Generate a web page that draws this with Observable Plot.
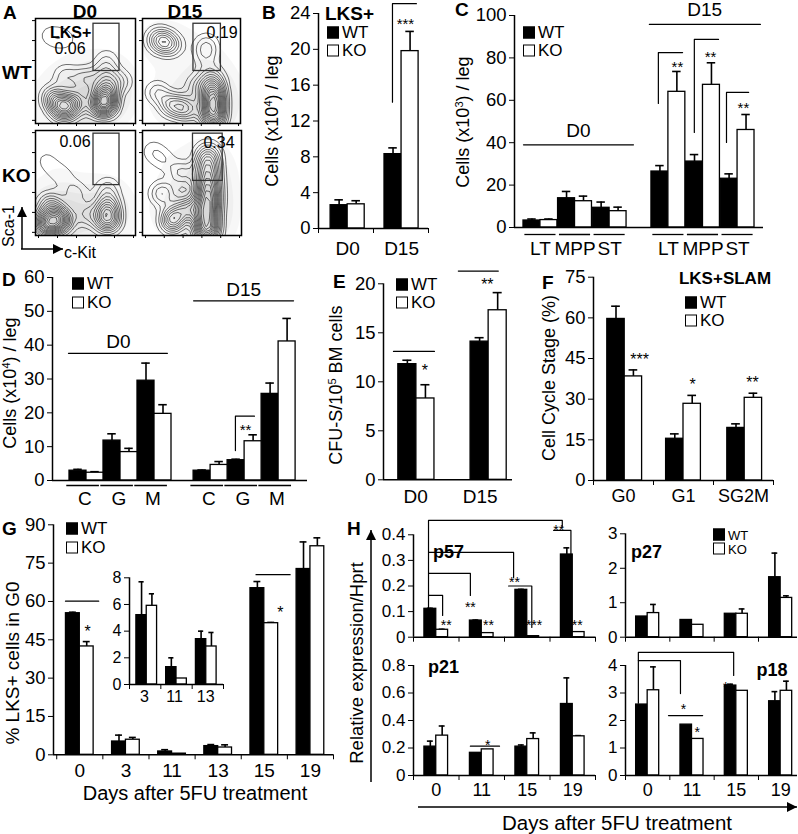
<!DOCTYPE html>
<html><head><meta charset="utf-8">
<script src="https://cdn.jsdelivr.net/npm/d3@7"></script>
<script src="https://cdn.jsdelivr.net/npm/@observablehq/plot@0.6"></script>
<style>
body{margin:0;background:#fff;}
#fig{position:relative;width:798px;height:834px;overflow:hidden;font-family:"Liberation Sans",Arial,Helvetica,sans-serif;color:#000;background:#fff;}
.t{position:absolute;white-space:nowrap;line-height:1;}
.b{font-weight:bold;}
.sup{font-size:0.62em;vertical-align:0.55em;}
.box{display:inline-block;width:10px;height:10px;border:1.5px solid #000;margin-right:3px;vertical-align:-1px;}
</style></head><body><div id="fig"></div>
<script>
// ---------------- DATA ----------------
// A: flow cytometry (blob centres: [c-Kit %, Sca-1 %, weight])
const A_wt_d0 = [[28,15,4],[18,24,2],[40,20,2],[68,18,5],[70,30,3],[70,45,1.5],[71,60,0.8],[50,42,1.5],[30,45,1],[12,84,0.4],[22,82,0.4],[32,80,0.4],[85,40,1]];
const A_wt_d15 = [[14,80,1.2],[22,78,1.4],[30,75,1.2],[65,75,1],[65,63,0.8],[72,5,3],[72,15,3],[72,25,3],[72,35,2],[70,45,1],[30,18,2],[45,14,2],[15,30,1],[55,35,1]];
const A_ko_d0 = [[12,12,4],[25,15,3],[15,30,1.5],[72,15,3],[72,28,2],[72,45,0.8],[50,20,1],[40,40,0.8],[10,72,0.35],[20,62,0.35],[30,55,0.35]];
const A_ko_d15 = [[65,5,3],[65,20,3],[66,35,3],[66,50,2.5],[66,65,2],[66,78,1.2],[30,15,2],[45,25,1.5],[20,40,1],[10,80,0.4],[22,72,0.4],[40,60,0.8]];
const A_gates = [[58,84,50,95],[52,80,50,95],[58,84,48,97],[51,81,52,97]]; // x1,x2,y1,y2
const A_pct = ["0.06","0.19","0.06","0.34"];

// B: LKS+ cells (x10^4)/leg
const B_days = ["D0","D15"];
const B_wt = [2.6, 8.3], B_wtErr = [0.6, 0.7];
const B_ko = [2.7, 19.8], B_koErr = [0.4, 2.2];

// C: cells (x10^3)/leg
const C_days = ["D0","D0","D0","D15","D15","D15"];
const C_cats = ["LT","MPP","ST","LT","MPP","ST"];
const C_wt = [3.3, 13.8, 9.3, 26.4, 31.1, 23.0], C_wtErr = [0.7, 3.2, 2.7, 2.8, 3.3, 2.3];
const C_ko = [3.5, 12.4, 7.7, 64.0, 67.3, 46.0], C_koErr = [0.5, 2.4, 1.9, 9.6, 10.4, 7.3];

// D: cells (x10^4)/leg
const D_cats = ["C","G","M","C","G","M"];
const D_wt = [2.9, 11.8, 29.5, 2.9, 6.0, 25.6], D_wtErr = [0.4, 2.0, 5.2, 0.2, 0.3, 3.2];
const D_ko = [2.3, 8.4, 19.7, 4.6, 11.6, 41.1], D_koErr = [0.3, 1.1, 2.7, 1.0, 1.9, 6.8];

// E: CFU-S / 10^5 BM cells
const E_days = ["D0","D15"];
const E_wt = [11.8, 14.1], E_wtErr = [0.4, 0.4];
const E_ko = [8.3, 17.3], E_koErr = [1.4, 1.8];

// F: cell cycle stage (%)
const F_stage = ["G0","G1","SG2M"];
const F_wt = [59.6, 15.4, 19.4], F_wtErr = [4.7, 1.8, 1.5];
const F_ko = [38.4, 28.3, 30.5], F_koErr = [2.4, 3.1, 1.7];

// G: % LKS+ cells in G0
const G_days = ["0","3","11","13","15","19"];
const G_wt = [55.4, 5.2, 1.3, 3.4, 65.2, 72.7], G_wtErr = [0.4, 2.5, 0.7, 0.6, 2.6, 10.6];
const G_ko = [42.4, 5.9, 0.45, 2.85, 51.5, 81.6], G_koErr = [1.9, 0.9, 0, 1.05, 0.3, 3.3];
const Gi_days = ["3","11","13"];

// H: relative expression / Hprt
const H_days = ["0","11","15","19"];
const H57_wt = [0.111, 0.065, 0.185, 0.323], H57_wtErr = [0.002, 0.002, 0.002, 0.026];
const H57_ko = [0.029, 0.016, 0.004, 0.02], H57_koErr = [0.002, 0, 0, 0];
const H27_wt = [0.6, 0.5, 0.68, 1.74], H27_wtErr = [0, 0, 0, 0.7];
const H27_ko = [0.7, 0.36, 0.68, 1.14], H27_koErr = [0.25, 0, 0.14, 0.06];
const H21_wt = [0.21, 0.165, 0.21, 0.52], H21_wtErr = [0.04, 0, 0.012, 0.19];
const H21_ko = [0.29, 0.19, 0.265, 0.285], H21_koErr = [0.07, 0, 0.045, 0.005];
const H18_wt = [2.58, 1.85, 3.27, 2.7], H18_wtErr = [0, 0, 0.05, 0.35];
const H18_ko = [3.1, 1.33, 3.08, 3.08], H18_koErr = [0.85, 0, 0, 0.35];

// ---------------- HELPERS ----------------
const W = 798, H = 834;
const FONT = '"Liberation Sans", Arial, Helvetica, sans-serif';
const fig = document.getElementById("fig");
function add(el){ el.style.position="absolute"; el.style.left="0px"; el.style.top="0px"; fig.appendChild(el); }
function frm(l,r,t,b){ return {width:W,height:H,marginLeft:l,marginRight:W-r,marginTop:t,marginBottom:H-b}; }
const ST = fs => ({background:"transparent", fontFamily:FONT, fontSize:fs+"px", color:"#000", overflow:"visible"});

function rowsOf(centers, wt, wtE, ko, koE, hw){
  const out=[];
  centers.forEach((c,i)=>{
    out.push({g:"WT",x1:c-hw,x2:c,v:wt[i],e:wtE[i]});
    out.push({g:"KO",x1:c,x2:c+hw,v:ko[i],e:koE[i]});
  });
  return out;
}
function barMarks(rows, sw=1.3){
  const mid=d=>(d.x1+d.x2)/2, cap=d=>(d.x2-d.x1)*0.25;
  const er=rows.filter(d=>d.e>0);
  return [
    Plot.ruleX(er,{x:mid,y1:"v",y2:d=>d.v+d.e,stroke:"#000",strokeWidth:1.6}),
    Plot.ruleY(er,{y:d=>d.v+d.e,x1:d=>mid(d)-cap(d),x2:d=>mid(d)+cap(d),stroke:"#000",strokeWidth:1.6}),
    Plot.rect(rows.filter(d=>d.g==="WT"),{x1:"x1",x2:"x2",y1:0,y2:"v",fill:"#000",stroke:"#000",strokeWidth:sw}),
    Plot.rect(rows.filter(d=>d.g==="KO"),{x1:"x1",x2:"x2",y1:0,y2:"v",fill:"#fff",stroke:"#000",strokeWidth:sw})
  ];
}
function annot(lines, stars, fs=16){
  const pts=lines.flatMap((l,i)=>l.map(([x,y])=>({x,y,i})));
  return [
    Plot.line(pts,{x:"x",y:"y",z:"i",stroke:"#000",strokeWidth:1.2}),
    Plot.text(stars,{x:d=>d[0],y:d=>d[1],text:d=>d[2],fontSize:fs,dy:4})
  ];
}
function barPlot(o){
  const [l,r,t,b]=o.frame;
  const fs=o.fs||18.5;
  const fmt=o.yFormat||(d=>String(d));
  const xs = o.xTicks ? {domain:o.xDomain,ticks:o.xTicks,tickFormat:()=>"",tickSize:5,label:null} : {domain:o.xDomain,axis:null};
  return Plot.plot({
    ...frm(l,r,t,b),
    style:ST(fs),
    x:xs,
    y:{domain:o.yDomain,ticks:o.yTicks,tickSize:5,tickFormat:()=>"",label:null},
    marks:[
      ...barMarks(o.rows),
      Plot.ruleX([o.xDomain[0]],{stroke:"#000",strokeWidth:1.5}),
      Plot.ruleY([o.yDomain[0]],{stroke:"#000",strokeWidth:1.5}),
      Plot.text(o.yTicks,{y:d=>d,frameAnchor:"left",dx:-8,textAnchor:"end",text:fmt,fontSize:fs}),
      ...(o.marks||[])
    ]
  });
}
function catLabels(labels, pos, dy, fs){
  return Plot.text(labels,{x:(d,i)=>pos[i],frameAnchor:"bottom",text:d=>d,dy:dy,fontSize:fs,lineAnchor:"middle"});
}
function underlines(pos, half, dy){
  return Plot.ruleY(pos,{y:()=>0,x1:d=>d-half,x2:d=>d+half,dy:dy,stroke:"#000",strokeWidth:1.3});
}
function txt(html,x,y,o={}){
  const d=document.createElement("div");
  d.className="t"+(o.bold?" b":"");
  d.innerHTML=html;
  d.style.left=x+"px"; d.style.top=y+"px";
  d.style.fontSize=(o.fs||17)+"px";
  const ax=o.anchor==="middle"?"-50%":o.anchor==="end"?"-100%":"0";
  d.style.transform=o.rot?"translate(-50%,-50%) rotate(-90deg)":`translate(${ax},-50%)`;
  fig.appendChild(d);
}
function legend(x,y1,y2,fs=17){
  txt('<span class="box" style="background:#000"></span>WT',x,y1,{fs});
  txt('<span class="box" style="background:#fff"></span>KO',x,y2,{fs});
}

// ---------------- PANEL A ----------------
const A_logTicks=[3,22,41,60,79,98];
function flowPlot(box, blobs, gate){
  const [l,r,t,b]=box;
  const data=blobs.map(([x,y,w])=>({x,y,w}));
  return Plot.plot({
    ...frm(l,r,t,b), style:ST(12),
    x:{domain:[0,100],ticks:A_logTicks,tickSize:3,tickFormat:()=>"",label:null},
    y:{domain:[0,100],ticks:A_logTicks,tickSize:3,tickFormat:()=>"",label:null},
    marks:[
      Plot.density(data,{x:"x",y:"y",weight:"w",bandwidth:16,thresholds:6,fill:"#000",fillOpacity:0.03,stroke:"none",clip:true}),
      Plot.density(data,{x:"x",y:"y",weight:"w",bandwidth:6,thresholds:16,stroke:"#111",strokeWidth:0.6,fill:"none",clip:true}),
      Plot.rect([gate],{x1:d=>d[0],x2:d=>d[1],y1:d=>d[2],y2:d=>d[3],fill:"none",stroke:"#333",strokeWidth:1.3}),
      Plot.frame({stroke:"#000",strokeWidth:1.5})
    ]
  });
}
const A_boxes=[[35,135,18,123],[142,240,18,123],[35,135,130,235],[142,241,130,235]];
[A_wt_d0,A_wt_d15,A_ko_d0,A_ko_d15].forEach((bl,i)=>add(flowPlot(A_boxes[i],bl,A_gates[i])));

// ---------------- PANEL B ----------------
const B_pos=[0.53,1.51];
add(barPlot({frame:[318,428,13,228],xDomain:[0,2],xTicks:[0,1,2],yDomain:[0,24],yTicks:[0,4,8,12,16,20,24],
  rows:rowsOf(B_pos,B_wt,B_wtErr,B_ko,B_koErr,0.31),
  marks:[catLabels(B_days,B_pos,20,19), ...annot([[[1.345,14.1],[1.345,25.1],[1.78,25.1]]],[[1.58,23.3,"***"]],15)]}));

// ---------------- PANEL C ----------------
const C_pos=[0.75,1.75,2.75,4.45,5.45,6.45];
add(barPlot({frame:[514,763,15,227],xDomain:[0,7.2],yDomain:[0,100],yTicks:[0,20,40,60,80,100],
  rows:rowsOf(C_pos,C_wt,C_wtErr,C_ko,C_koErr,0.49),
  marks:[underlines(C_pos,0.45,7), catLabels(C_cats,C_pos,21,19),
    ...annot([[[0.26,39],[3.44,39]],[[3.9,95.8],[7.11,95.8]],
              [[4.16,58.5],[4.16,82.5],[4.86,82.5]],[[5.2,44.8],[5.2,88.7],[5.9,88.7]],[[6.13,40.1],[6.13,63.7],[6.77,63.7]]],
             [[4.71,77.4,"**"],[5.67,82,"**"],[6.62,58,"**"]],15),
    Plot.text([["D0",1.85,39],["D15",5.5,95.8]],{x:d=>d[1],y:d=>d[2],text:d=>d[0],dy:-14,fontSize:19})]}));

// ---------------- PANEL D ----------------
const D_pos=[1,2,3,4.65,5.65,6.65];
add(barPlot({frame:[52,307,277,480],xDomain:[0,7.5],yDomain:[0,60],yTicks:[0,10,20,30,40,50,60],
  rows:rowsOf(D_pos,D_wt,D_wtErr,D_ko,D_koErr,0.5),
  marks:[underlines(D_pos.map(p=>p-0.1),0.48,5), catLabels(D_cats,D_pos.map(p=>p-0.05),18,19),
    ...annot([[[0.47,37.6],[3.38,37.6]],[[4.15,53.1],[7.09,53.1]],[[5.38,8.85],[5.38,19.0],[5.94,19.0]]],
             [[5.68,16.2,"**"]],15),
    Plot.text([["D0",1.94,37.6],["D15",5.62,53.1]],{x:d=>d[1],y:d=>d[2],text:d=>d[0],dy:-11,fontSize:19})]}));

// ---------------- PANEL E ----------------
const E_pos=[0.51,1.63];
add(barPlot({frame:[383,512,283.3,479.3],xDomain:[0,2],yDomain:[0,20],yTicks:[0,5,10,15,20],
  rows:rowsOf(E_pos,E_wt,E_wtErr,E_ko,E_koErr,0.28),
  marks:[catLabels(E_days,[0.5,1.5],17,19),
    ...annot([[[0.155,13.1],[0.79,13.1]],[[1.16,21.3],[1.78,21.3]]],[[0.64,11.5,"*"],[1.61,20.3,"**"]],16)]}));

// ---------------- PANEL F ----------------
const F_pos=[0.52,1.5,2.52];
add(barPlot({frame:[593,773,276.7,480],xDomain:[0,3],xTicks:[0,1,2,3],yDomain:[0,75],yTicks:[0,15,30,45,60,75],
  rows:rowsOf(F_pos,F_wt,F_wtErr,F_ko,F_koErr,0.29),
  marks:[catLabels(F_stage,[0.5,1.5,2.5],16,18),
    ...annot([],[[0.77,46.1,"***"],[1.65,36.9,"*"],[2.65,37.6,"**"]],16)]}));

// ---------------- PANEL G ----------------
const G_pos=[0.5,1.5,2.5,3.5,4.5,5.5];
add(barPlot({frame:[53,333,524.3,754.3],xDomain:[-0.07,6],xTicks:[0,1,2,3,4,5,6],yDomain:[0,90],yTicks:[0,15,30,45,60,75,90],
  rows:rowsOf(G_pos,G_wt,G_wtErr,G_ko,G_koErr,0.3),
  marks:[catLabels(G_days,G_pos,16,19),
    ...annot([[[0.19,60.1],[0.91,60.1]],[[4.32,70.5],[5.06,70.5]]],[[0.67,49.8,"*"],[4.85,57.2,"*"]],16)]}));
const Gi_pos=[0.55,1.5,2.45];
add(barPlot({frame:[129,223,577.3,684],xDomain:[0,3],xTicks:[0,1,2,3],yDomain:[0,8],yTicks:[0,2,4,6,8],fs:16,
  rows:rowsOf(Gi_pos,G_wt.slice(1,4),G_wtErr.slice(1,4),G_ko.slice(1,4),G_koErr.slice(1,4),0.33),
  marks:[catLabels(Gi_days,[0.48,1.44,2.43],12,16)]}));

// ---------------- PANEL H ----------------
const H_pos=[0.5,1.5,2.5,3.5];
add(barPlot({frame:[413,595,534.3,636.7],xDomain:[0,4],xTicks:[0,1,2,3,4],yDomain:[0,0.4],yTicks:[0,0.1,0.2,0.3,0.4],fs:17,
  rows:rowsOf(H_pos,H57_wt,H57_wtErr,H57_ko,H57_koErr,0.26),
  marks:[...annot([
      [[0.33,0.116],[0.33,0.456],[3.27,0.456],[3.27,0.43]],
      [[0.33,0.331],[2.2,0.331],[2.2,0.233]],
      [[0.33,0.249],[1.25,0.249],[1.25,0.163]],
      [[0.33,0.163],[0.64,0.163],[0.64,0.085]],
      [[2.09,0.2],[2.6,0.2],[2.6,0.038]],
      [[3.08,0.417],[3.46,0.417],[3.46,0.038]]],
    [[0.72,0.062,"**"],[1.65,0.062,"**"],[2.65,0.062,"***"],[3.6,0.062,"**"],[1.25,0.133,"**"],[2.22,0.23,"**"],[3.19,0.432,"**"]],14)]}));
add(barPlot({frame:[413,595,665,775],xDomain:[0,4],xTicks:[0,1,2,3,4],yDomain:[0,0.8],yTicks:[0,0.2,0.4,0.6,0.8],fs:17,
  rows:rowsOf(H_pos,H21_wt,H21_wtErr,H21_ko,H21_koErr,0.26),
  marks:[catLabels(H_days,H_pos,15,18), ...annot([[[1.25,0.213],[1.89,0.213]]],[[1.63,0.245,"*"]],14)]}));
add(barPlot({frame:[625,797,533.3,636.7],xDomain:[0,3.88],xTicks:[0,1,2,3],yDomain:[0,3],yTicks:[0,1,2,3],fs:17,
  rows:rowsOf(H_pos,H27_wt,H27_wtErr,H27_ko,H27_koErr,0.26)}));
add(barPlot({frame:[625,797,665,775],xDomain:[0,3.88],xTicks:[0,1,2,3],yDomain:[0,4],yTicks:[0,1,2,3,4],fs:17,
  rows:rowsOf(H_pos,H18_wt,H18_wtErr,H18_ko,H18_koErr,0.26),
  marks:[catLabels(H_days,H_pos,15,18),
    ...annot([[[0.29,2.63],[0.29,4.48],[2.44,4.48],[2.44,3.64]],[[0.29,4.18],[1.24,4.18],[1.24,2.98]],[[0.97,2.18],[1.74,2.18]]],
             [[2.26,3.35,"*"],[1.31,2.55,"*"],[1.62,1.71,"*"]],14)]}));

// ---------------- DECORATION: arrows ----------------
const svg=d3.select(fig).append("svg").attr("width",W).attr("height",H).style("position","absolute").style("left","0px").style("top","0px");
function arrow(x1,y1,x2,y2,w){
  svg.append("line").attr("x1",x1).attr("y1",y1).attr("x2",x2).attr("y2",y2).attr("stroke","#000").attr("stroke-width",w);
  const a=Math.atan2(y2-y1,x2-x1), L=10, S=5;
  const p=[[x2,y2],[x2-L*Math.cos(a)+S*Math.sin(a),y2-L*Math.sin(a)-S*Math.cos(a)],[x2-L*Math.cos(a)-S*Math.sin(a),y2-L*Math.sin(a)+S*Math.cos(a)]];
  svg.append("polygon").attr("points",p.map(q=>q.join(",")).join(" ")).attr("fill","#000");
}
arrow(22,249,22,207,1.5); arrow(21,249,63,249,1.5);
arrow(371,782,371,530,1.5); arrow(418,807,797,807,1.5);

// ---------------- TEXT ----------------
[["A",3,12],["B",262,12],["C",455,9],["D",2,279],["E",333,281],["F",542,282],["G",2,528],["H",347,528]]
  .forEach(([s,x,y])=>txt(s,x,y,{bold:true,fs:19}));
// A
txt("D0",85,11,{bold:true,anchor:"middle",fs:19}); txt("D15",185,11,{bold:true,anchor:"middle",fs:19});
txt("WT",2,72,{bold:true,fs:19}); txt("KO",2,175,{bold:true,fs:19});
txt("LKS+",50,33,{bold:true,fs:16});
txt(A_pct[0],70,49,{anchor:"middle",fs:16}); txt(A_pct[1],222,33,{anchor:"middle",fs:16});
txt(A_pct[2],75,142,{anchor:"middle",fs:16}); txt(A_pct[3],219,143,{anchor:"middle",fs:16});
txt("Sca-1",9,226,{rot:true,fs:16}); txt("c-Kit",64,253,{fs:16});
// B
txt("LKS+",325,13,{bold:true,fs:19}); legend(327,32,50);
txt('Cells (x10<span class="sup">4</span>) / leg',272,121,{rot:true,fs:18});
// C
legend(523,32,50);
txt('Cells (x10<span class="sup">3</span>) / leg',463,122,{rot:true,fs:18});
// D
legend(72,283,302);
txt('Cells (x10<span class="sup">4</span>) / leg',10,383,{rot:true,fs:18});
// E
legend(396,284,302);
txt('CFU-S/10<span class="sup">5</span> BM cells',336,385,{rot:true,fs:18});
// F
txt("LKS+SLAM",725,278,{bold:true,anchor:"middle",fs:17}); legend(685,302,320);
txt("Cell Cycle Stage (%)",549,378,{rot:true,fs:18});
// G
legend(66,528,547);
txt("% LKS+ cells in G0",12,663,{rot:true,fs:19});
txt("Days after 5FU treatment",195,793,{anchor:"middle",fs:20});
// H
txt("p57",433,552,{bold:true,fs:18}); txt("p21",428,667,{bold:true,fs:18});
txt("p27",631,552,{bold:true,fs:18}); txt("p18",772,670,{bold:true,anchor:"middle",fs:18});
legend(713,535,549,13);
txt("Relative expression/Hprt",357,663,{rot:true,fs:18.5});
txt("Days after 5FU treatment",617,823,{anchor:"middle",fs:20.5});
</script></body></html>
